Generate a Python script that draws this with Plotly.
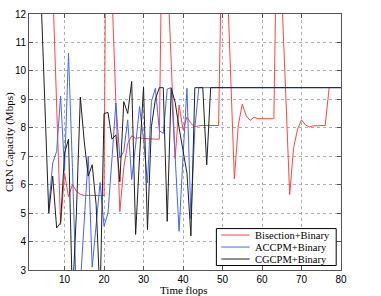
import plotly.graph_objects as go

# ---------------- data ----------------
time_red = list(range(1, 78))
bisection = [40, 38, 35, 30, 25, 18, 13.0, 8.8, 4.6, 6.4,
             5.58, 6.0, 5.77, 5.66, 5.62, 5.62, 5.62, 5.62, 5.62, 5.62,
             26.6, 12.8, 8.9, 5.05, 6.6, 7.45, 7.72, 7.63, 7.65, 7.62,
             7.62, 7.6, 7.6, 7.6, 18.6, 13.7, 10.3, 6.92, 8.8, 7.93,
             8.38, 8.15, 8.03, 8.07, 8.08, 8.08, 8.08, 8.08, 8.08, 15.9,
             13.9, 10.1, 6.2, 8.1, 8.83, 8.42, 8.26, 8.37, 8.32, 8.32,
             8.32, 8.32, 8.32, 17.5, 12.7, 9.2, 5.65, 7.3, 7.95, 8.28,
             8.1, 8.03, 8.07, 8.07, 8.08, 8.08, 9.41]

time_blue = list(range(6, 81))
accpm = [5.2, 6.76, 7.17, 9.12, 6.5,
         10.62, 6.6, 2.0, 2.5, 4.8, 7.0, 3.1, 4.6, 6.08, 4.54,
         5.0, 6.9, 8.87, 6.94, 7.17, 8.28, 6.18, 7.4, 8.75, 7.6,
         6.06, 8.92, 9.39, 7.9, 7.8, 9.36, 9.41, 7.0, 4.36, 7.0,
         9.39, 4.8, 8.0] + [9.41] * 37

time_black = list(range(1, 81))
cgcpm = [40, 30, 20, 12.8, 8.9, 5.0, 6.3, 4.48, 4.66, 7.1,
         7.6, 2.0, 5.0, 9.08, 7.5, 6.3, 6.7, 5.3, 2.0, 8.5,
         8.54, 7.6, 7.75, 6.1, 8.92, 8.5, 9.63, 4.25, 7.0, 9.43,
         4.42, 8.05, 9.0, 9.41, 9.41, 4.71, 9.39, 8.9, 8.0, 7.2,
         6.4, 4.2, 9.41, 9.41, 9.41, 6.7] + [9.41] * 34

series_names = ["Bisection+Binary", "ACCPM+Binary", "CGCPM+Binary"]
series_colors = ["#ff4545", "#4565ff", "#202020"]

x_ticks = [10, 20, 30, 40, 50, 60, 70, 80]
y_ticks = [3, 4, 5, 6, 7, 8, 9, 10, 11, 12]

SERIF = "Liberation Serif, Times New Roman, serif"
SANS = "Liberation Sans, Arial, sans-serif"

# ---------------- figure ----------------
fig = go.Figure()
for xs, ys, name, col in zip([time_red, time_blue, time_black],
                             [bisection, accpm, cgcpm],
                             series_names, series_colors):
    fig.add_trace(go.Scatter(x=xs, y=ys, mode="lines", name=name,
                             line=dict(color=col, width=1)))

axis_common = dict(
    showline=True, linecolor="#555", linewidth=1, mirror="ticks",
    ticks="inside", ticklen=4, tickcolor="#555",
    showgrid=True, gridcolor="#b0b0b0", griddash="dot", gridwidth=1,
    zeroline=False, automargin=False,
    tickfont=dict(family=SANS, size=10, color="black"),
)

fig.update_xaxes(range=[1, 80], tickvals=x_ticks, **axis_common)
fig.update_yaxes(range=[3, 12], tickvals=y_ticks, **axis_common)

# ---- legend box (MATLAB style, compact) ----
leg_x0, leg_x1, leg_y0, leg_y1 = 0.6006, 0.9846, 0.0175, 0.1618
row_y = [0.1365, 0.0897, 0.0429]
sample_x0, sample_x1, text_x = 0.6166, 0.7072, 0.7200

shapes = [dict(type="rect", xref="paper", yref="paper",
               x0=leg_x0, x1=leg_x1, y0=leg_y0, y1=leg_y1,
               line=dict(color="black", width=1), fillcolor="white", layer="above")]
annotations = []
for name, col, yy in zip(series_names, series_colors, row_y):
    shapes.append(dict(type="line", xref="paper", yref="paper",
                       x0=sample_x0, x1=sample_x1, y0=yy, y1=yy,
                       line=dict(color=col, width=1), layer="above"))
    annotations.append(dict(text=name, xref="paper", yref="paper",
                            x=text_x, y=yy, xanchor="left", yanchor="middle",
                            showarrow=False, borderpad=0,
                            font=dict(family=SERIF, size=10.5, color="black")))

annotations += [
    dict(text="CRN Capacity (Mbps)", xref="paper", yref="paper",
         x=-0.064, y=0.5, xanchor="center", yanchor="middle",
         textangle=-90, showarrow=False,
         font=dict(family=SERIF, size=11, color="black")),
    dict(text="Time flops", xref="paper", yref="paper",
         x=0.498, y=-0.080, xanchor="center", yanchor="middle",
         showarrow=False, borderpad=0,
         font=dict(family=SERIF, size=11, color="black")),
]

fig.update_layout(
    width=381, height=296,
    margin=dict(l=29, r=39.5, t=14, b=25.5),
    paper_bgcolor="white", plot_bgcolor="white",
    showlegend=False,
    shapes=shapes,
    annotations=annotations,
)

fig.write_html("out.html",
               config={"displayModeBar": False},
               post_script="document.body.style.margin='0px';document.body.style.overflow='hidden';")
